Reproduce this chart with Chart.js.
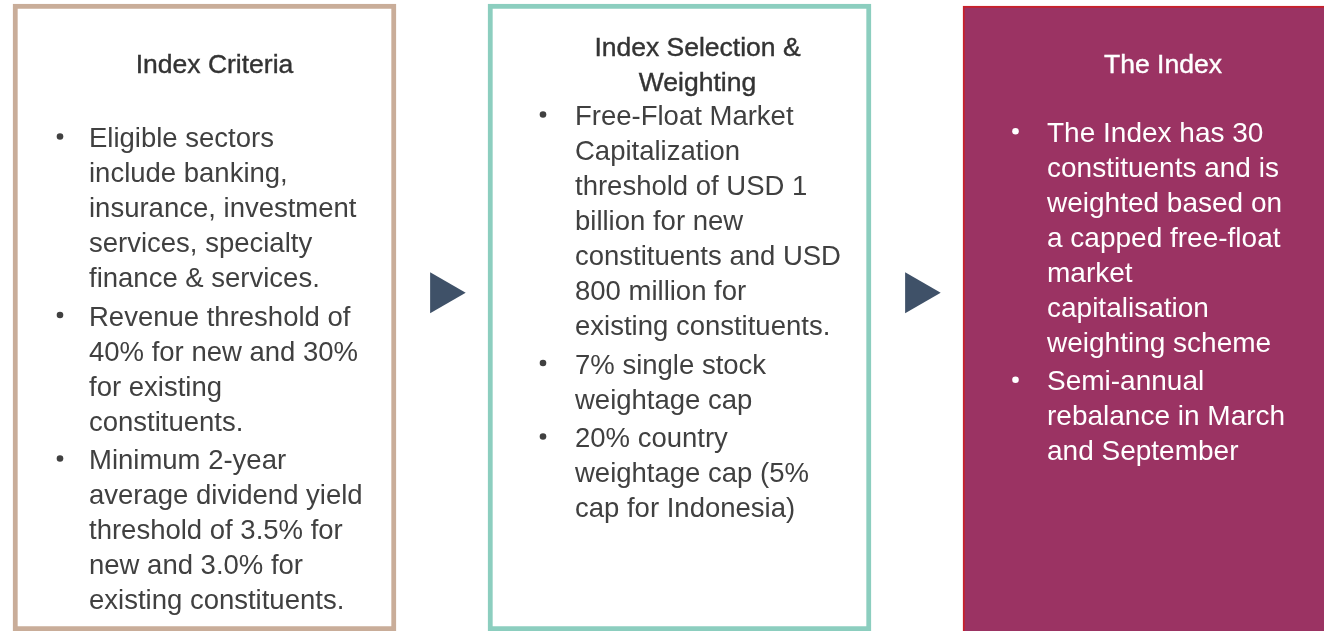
<!DOCTYPE html>
<html>
<head>
<meta charset="utf-8">
<title>Index methodology</title>
<script src="https://cdn.jsdelivr.net/npm/chart.js@4.4.1/dist/chart.umd.min.js"></script>
<style>
html, body { margin: 0; padding: 0; background: #fff; overflow: hidden; width: 1324px; height: 631px; }
#wrap { position: absolute; left: -33px; top: 0; width: 1425px; height: 631px; }
</style>
</head>
<body>
<div id="wrap"><canvas id="myChart" width="1425" height="631"></canvas></div>
<script>
// panel headings (one entry per line)
var panelTitles = [
    ['Index Criteria'],
    ['Index Selection &', 'Weighting'],
    ['The Index']
];

// bullet points per panel, already broken into lines as in the original
var panelBullets = [
    [
        ['Eligible sectors', 'include banking,', 'insurance, investment', 'services, specialty', 'finance & services.'],
        ['Revenue threshold of', '40% for new and 30%', 'for existing', 'constituents.'],
        ['Minimum 2-year', 'average dividend yield', 'threshold of 3.5% for', 'new and 3.0% for', 'existing constituents.']
    ],
    [
        ['Free-Float Market', 'Capitalization', 'threshold of USD 1', 'billion for new', 'constituents and USD', '800 million for', 'existing constituents.'],
        ['7% single stock', 'weightage cap'],
        ['20% country', 'weightage cap (5%', 'cap for Indonesia)']
    ],
    [
        ['The Index has 30', 'constituents and is', 'weighted based on', 'a capped free-float', 'market', 'capitalisation', 'weighting scheme'],
        ['Semi-annual', 'rebalance in March', 'and September']
    ]
];

// arrows sit half way between two panels
var arrowSteps = [0.5, 1.5];

// layout of the text inside each panel (pixels)
var titleShift = [10, 18, 8.5];
var bulletIndent = [47, 55, 52.5];
var textIndent = [76, 87, 84];
var bodyStart = [147, 125, 141.7];
var bodyFont = ['27.5px', '27.5px', '28px'];
var textColor = ['#404040', '#404040', '#ffffff'];
var titleColor = ['#333333', '#333333', '#ffffff'];

const panelText = {
    id: 'panelText',
    afterDatasetsDraw(chart) {
        const ctx = chart.ctx;
        const meta = chart.getDatasetMeta(0);
        const areaTop = chart.chartArea.top;
        ctx.save();
        meta.data.forEach(function (bar, i) {
            const left = bar.x - bar.width / 2;

            // heading, centred as a block round y = 73
            ctx.textAlign = 'center';
            ctx.textBaseline = 'alphabetic';
            ctx.font = '26.5px "Liberation Sans", Arial, sans-serif';
            ctx.fillStyle = titleColor[i];
            ctx.strokeStyle = titleColor[i];
            ctx.lineWidth = 0.4;
            const n = panelTitles[i].length;
            panelTitles[i].forEach(function (line, k) {
                const y = areaTop + 73 + (k - (n - 1) / 2) * 35;
                ctx.fillText(line, bar.x + titleShift[i], y);
                ctx.strokeText(line, bar.x + titleShift[i], y);
            });

            // bullets
            ctx.textAlign = 'left';
            ctx.font = bodyFont[i] + ' "Liberation Sans", Arial, sans-serif';
            ctx.fillStyle = textColor[i];
            let y = areaTop + bodyStart[i];
            panelBullets[i].forEach(function (para, p) {
                if (p > 0) y += 3.5;
                ctx.beginPath();
                ctx.arc(left + bulletIndent[i], y - 10.5, 3.3, 0, Math.PI * 2);
                ctx.fill();
                para.forEach(function (line) {
                    ctx.fillText(line, left + textIndent[i], y);
                    y += 35;
                });
            });
        });
        ctx.restore();
    }
};

const ctx = document.getElementById('myChart').getContext('2d');
const chart = new Chart(ctx, {
    type: 'bar',
    data: {
        labels: panelTitles.map(function (t) { return t.join(' '); }),
        datasets: [{
            label: 'panels',
            data: panelTitles.map(function (t, i) { return i === 2 ? [-3, 99.05] : [0, 99.37]; }),
            backgroundColor: ['#ffffff', '#ffffff', 'rgb(155, 51, 99)'],
            borderColor: ['rgb(201, 173, 153)', 'rgb(140, 206, 191)', 'rgb(200, 32, 42)'],
            borderWidth: [5, 5, 2],
            borderSkipped: false,
            grouped: false,
            barThickness: 383,
            xAxisID: 'x',
            yAxisID: 'y',
            order: 2
        }, {
            type: 'scatter',
            label: 'arrows',
            data: arrowSteps.map(function (s) { return { x: s, y: 53.6 }; }),
            pointStyle: 'triangle',
            rotation: 90,
            pointRadius: 23.7,
            pointHoverRadius: 23.7,
            borderWidth: 0,
            backgroundColor: 'rgb(63, 81, 104)',
            xAxisID: 'x2',
            yAxisID: 'y',
            order: 1
        }]
    },
    options: {
        responsive: false,
        animation: false,
        events: [],
        layout: { padding: 0, autoPadding: false },
        plugins: {
            legend: { display: false },
            tooltip: { enabled: false },
            title: { display: false }
        },
        scales: {
            x: { type: 'category', display: false, offset: true },
            x2: { type: 'linear', display: false, offset: false, min: -0.5, max: 2.5 },
            y: { type: 'linear', display: false, min: 0, max: 100 }
        }
    },
    plugins: [panelText]
});
</script>
</body>
</html>
